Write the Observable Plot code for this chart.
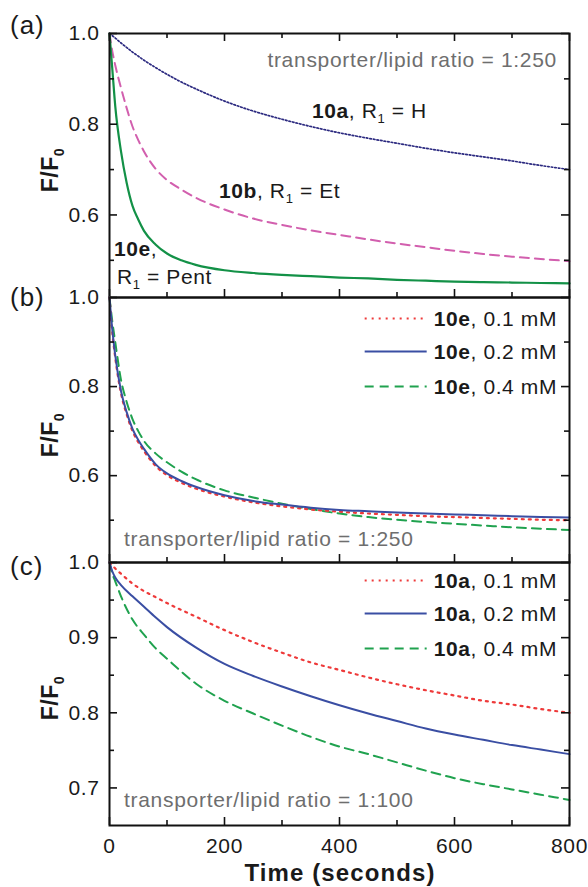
<!DOCTYPE html>
<html><head><meta charset="utf-8">
<script src="https://cdn.jsdelivr.net/npm/d3@7"></script>
<script src="https://cdn.jsdelivr.net/npm/@observablehq/plot@0.6"></script>
<style>
body{margin:0;background:#fff;}
#wrap{position:relative;width:588px;height:887px;font-family:"Liberation Sans",Arial,Helvetica,sans-serif;color:#1a1a1a;overflow:hidden;}
.p{position:absolute;left:0;}
.lbl{position:absolute;white-space:nowrap;line-height:1;}
.sub{font-size:0.62em;position:relative;top:0.42em;}
.row{position:absolute;display:flex;align-items:center;white-space:nowrap;line-height:1;transform:translate(-100%,-50%);font-size:21px;letter-spacing:0.6px;}
</style></head><body><div id="wrap"></div>
<script>
// ---------- data ----------
const xMajor = [0, 200, 400, 600, 800];
const xMinor = [100, 300, 500, 700];
const yMajorAB = [0.6, 0.8, 1.0];
const yMinorAB = [0.5, 0.7, 0.9];
const yMajorC = [0.7, 0.8, 0.9, 1.0];
const yMinorC = [0.75, 0.85, 0.95];

const timesAB = [0, 5, 10, 20, 30, 40, 50, 60, 80, 100, 125, 150, 200, 250, 300, 350, 400, 450, 500, 550, 600, 650, 700, 750, 800];
// panel (a)
const a_10a = [1.0, 0.995, 0.99, 0.979, 0.969, 0.959, 0.950, 0.941, 0.925, 0.910, 0.893, 0.878, 0.851, 0.829, 0.811, 0.795, 0.781, 0.769, 0.758, 0.747, 0.737, 0.728, 0.719, 0.709, 0.700];
const a_10b = [1.0, 0.96, 0.93, 0.88, 0.835, 0.795, 0.765, 0.74, 0.702, 0.677, 0.656, 0.638, 0.612, 0.592, 0.578, 0.566, 0.556, 0.546, 0.537, 0.529, 0.521, 0.514, 0.508, 0.503, 0.498];
const a_10e = [1.0, 0.92, 0.84, 0.74, 0.67, 0.62, 0.59, 0.565, 0.535, 0.515, 0.50, 0.49, 0.478, 0.472, 0.468, 0.465, 0.462, 0.46, 0.457, 0.455, 0.453, 0.452, 0.451, 0.45, 0.449];
// panel (b) 10e
const b_01 = [1.0, 0.92, 0.865, 0.785, 0.737, 0.70, 0.675, 0.655, 0.622, 0.601, 0.584, 0.571, 0.553, 0.540, 0.531, 0.524, 0.519, 0.515, 0.512, 0.509, 0.507, 0.505, 0.503, 0.501, 0.500];
const b_02 = [1.0, 0.926, 0.87, 0.79, 0.742, 0.705, 0.68, 0.66, 0.626, 0.605, 0.588, 0.575, 0.556, 0.543, 0.535, 0.528, 0.523, 0.52, 0.517, 0.515, 0.513, 0.511, 0.509, 0.507, 0.506];
const b_04 = [1.0, 0.945, 0.90, 0.815, 0.765, 0.727, 0.70, 0.678, 0.650, 0.630, 0.609, 0.592, 0.567, 0.551, 0.537, 0.525, 0.515, 0.507, 0.501, 0.496, 0.492, 0.488, 0.484, 0.481, 0.478];
// panel (c) 10a
const timesC = [0, 5, 10, 20, 40, 60, 80, 100, 150, 200, 250, 300, 350, 400, 450, 500, 550, 600, 650, 700, 750, 800];
const c_01 = [1.0, 0.996, 0.992, 0.985, 0.972, 0.962, 0.954, 0.946, 0.928, 0.910, 0.894, 0.880, 0.867, 0.857, 0.847, 0.838, 0.830, 0.823, 0.816, 0.811, 0.805, 0.800];
const c_02 = [1.0, 0.988, 0.980, 0.970, 0.955, 0.941, 0.927, 0.914, 0.887, 0.865, 0.849, 0.835, 0.822, 0.810, 0.799, 0.789, 0.779, 0.771, 0.764, 0.757, 0.751, 0.745];
const c_04 = [1.0, 0.985, 0.975, 0.955, 0.924, 0.904, 0.886, 0.872, 0.839, 0.816, 0.799, 0.783, 0.768, 0.755, 0.745, 0.734, 0.723, 0.713, 0.705, 0.698, 0.691, 0.684];

// ---------- styles ----------
const NAVY = "#2c2a80", PINK = "#d25fae", GREEN_A = "#139147", RED = "#ee3a3a", BLUE = "#3a4ea3", GREEN = "#20a24f";
const W = 588, ML = 109, MR = 19, FW = W - ML - MR;
const FONT = '"Liberation Sans", Arial, Helvetica, sans-serif';
const wrap = document.getElementById("wrap");

function rows(times, vals) { return times.map((t, i) => ({t, v: vals[i]})); }

function panel({top, mt, mb, fh, domain, yMajor, yMinor, series, xAxis, topTicks}) {
  const marks = [];
  for (const s of series) {
    marks.push(Plot.line(rows(s.t, s.v), {x: "t", y: "v", stroke: s.stroke, strokeWidth: s.w, strokeDasharray: s.dash, curve: "monotone-x"}));
  }
  const tk = {stroke: "#111", strokeWidth: 1.6};
  marks.push(
    Plot.tickY(yMajor, {y: d => d, insetRight: FW - 8, ...tk}),
    Plot.tickY(yMajor, {y: d => d, insetLeft: FW - 8, ...tk}),
    Plot.tickY(yMinor, {y: d => d, insetRight: FW - 5, ...tk}),
    Plot.tickY(yMinor, {y: d => d, insetLeft: FW - 5, ...tk}),
    Plot.tickX(xMajor, {x: d => d, insetTop: fh - 8, ...tk}),
    Plot.tickX(xMinor, {x: d => d, insetTop: fh - 5, ...tk})
  );
  if (topTicks) marks.push(
    Plot.tickX(xMajor, {x: d => d, insetBottom: fh - 8, ...tk}),
    Plot.tickX(xMinor, {x: d => d, insetBottom: fh - 5, ...tk})
  );
  marks.push(Plot.frame({stroke: "#111", strokeWidth: 2}));
  marks.push(Plot.axisY({ticks: yMajor, anchor: "left", tickSize: 0, tickPadding: 10, tickFormat: d3.format(".1f"), label: null, fontSize: 21}));
  if (xAxis) marks.push(Plot.axisX({ticks: xMajor, anchor: "bottom", tickSize: 0, tickPadding: 13, label: null, fontSize: 21}));
  const x = xAxis ? {domain: [0, 800]} : {domain: [0, 800], axis: null};
  const svg = Plot.plot({
    width: W, height: mt + fh + mb,
    marginLeft: ML, marginRight: MR, marginTop: mt, marginBottom: mb,
    x, y: {domain},
    style: {background: "transparent", overflow: "visible", fontFamily: FONT, fontSize: "21px", color: "#1a1a1a", letterSpacing: "0.6px"},
    marks
  });
  svg.classList.add("p");
  svg.style.top = top + "px";
  svg.style.position = "absolute";
  wrap.appendChild(svg);
}

panel({top: 0, mt: 33, mb: 10, fh: 264, domain: [0.418, 1], yMajor: yMajorAB, yMinor: yMinorAB, topTicks: true,
  series: [
    {t: timesAB, v: a_10a, stroke: NAVY, w: 1.7, dash: "1.6,2"},
    {t: timesAB, v: a_10b, stroke: PINK, w: 2, dash: "9,6"},
    {t: timesAB, v: a_10e, stroke: GREEN_A, w: 2.2}
  ]});
panel({top: 287, mt: 10, mb: 10, fh: 265, domain: [0.405, 1], yMajor: yMajorAB, yMinor: yMinorAB,
  series: [
    {t: timesAB, v: b_04, stroke: GREEN, w: 2, dash: "9,6"},
    {t: timesAB, v: b_01, stroke: RED, w: 2.2, dash: "2,5"},
    {t: timesAB, v: b_02, stroke: BLUE, w: 2}
  ]});
panel({top: 552, mt: 10, mb: 60, fh: 263, domain: [0.65, 1], yMajor: yMajorC, yMinor: yMinorC, xAxis: true,
  series: [
    {t: timesC, v: c_04, stroke: GREEN, w: 2, dash: "9,6"},
    {t: timesC, v: c_01, stroke: RED, w: 2.2, dash: "2,5"},
    {t: timesC, v: c_02, stroke: BLUE, w: 2}
  ]});

// ---------- text annotations ----------
function label(html, x, y, {anchor = "start", size = 21, weight = 400, color = "#1a1a1a", rotate = 0, ls = 0.6} = {}) {
  const d = document.createElement("div");
  d.className = "lbl";
  d.innerHTML = html;
  d.style.left = x + "px"; d.style.top = y + "px";
  d.style.fontSize = size + "px"; d.style.fontWeight = weight; d.style.color = color;
  d.style.letterSpacing = ls + "px";
  const tx = anchor === "start" ? "0" : anchor === "end" ? "-100%" : "-50%";
  d.style.transform = `translate(${tx},-50%)` + (rotate ? ` rotate(${rotate}deg)` : "");
  wrap.appendChild(d);
}
const GRAY = "#6e6e6e";
const R1 = 'R<span class="sub">1</span>';
label("(a)", 10, 25, {size: 26, ls: 1});
label("(b)", 10, 297, {size: 26, ls: 1});
label("(c)", 10, 566, {size: 26, ls: 1});
const FF0 = 'F/F<span class="sub">0</span>';
label(FF0, 50, 170, {anchor: "middle", size: 23, weight: 700, rotate: -90, ls: 0.5});
label(FF0, 50, 435, {anchor: "middle", size: 23, weight: 700, rotate: -90, ls: 0.5});
label(FF0, 50, 698, {anchor: "middle", size: 23, weight: 700, rotate: -90, ls: 0.5});

label("transporter/lipid ratio = 1:250", 557, 59, {anchor: "end", color: GRAY, ls: 0.7});
label(`<b>10a</b>, ${R1} = H`, 312, 110);
label(`<b>10b</b>, ${R1} = Et`, 219, 190);
label(`<b>10e</b>,`, 114, 248);
label(`${R1} = Pent`, 117, 276);
label("transporter/lipid ratio = 1:250", 124, 538, {color: GRAY, ls: 0.7});
label("transporter/lipid ratio = 1:100", 124, 799, {color: GRAY, ls: 0.7});
label("Time (seconds)", 340, 873, {anchor: "middle", size: 24, weight: 700, ls: 1.1});

// legends
function legendRow(y, stroke, dash, w, html) {
  const d = document.createElement("div");
  d.className = "row";
  d.style.left = "557px"; d.style.top = y + "px";
  d.innerHTML = `<svg width="62" height="6" style="margin-right:7px;overflow:visible"><line x1="0" x2="62" y1="3" y2="3" stroke="${stroke}" stroke-width="${w}" ${dash ? `stroke-dasharray="${dash}"` : ""}/></svg><span>${html}</span>`;
  wrap.appendChild(d);
}
legendRow(318, RED, "2,5", 2.2, "<b>10e</b>, 0.1 mM");
legendRow(351, BLUE, null, 2, "<b>10e</b>, 0.2 mM");
legendRow(386, GREEN, "9,6", 2, "<b>10e</b>, 0.4 mM");
legendRow(580, RED, "2,5", 2.2, "<b>10a</b>, 0.1 mM");
legendRow(613, BLUE, null, 2, "<b>10a</b>, 0.2 mM");
legendRow(648, GREEN, "9,6", 2, "<b>10a</b>, 0.4 mM");
</script></body></html>
